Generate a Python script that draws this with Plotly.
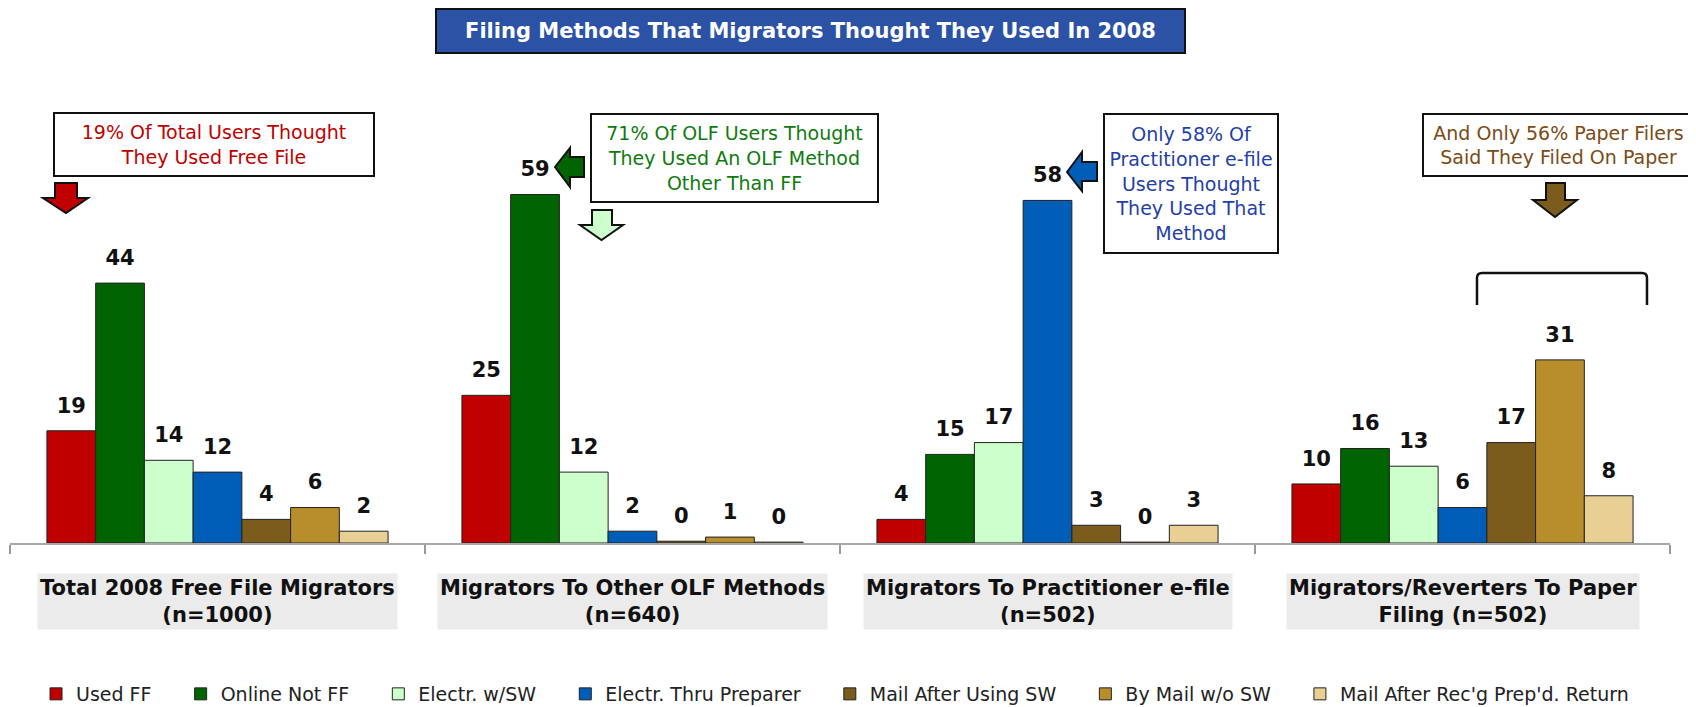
import plotly.graph_objects as go

# ---------------- data ----------------
categories = [
    "Total 2008 Free File Migrators<br>(n=1000)",
    "Migrators To Other OLF Methods<br>(n=640)",
    "Migrators To Practitioner e-file<br>(n=502)",
    "Migrators/Reverters To Paper<br>Filing (n=502)",
]
series_names = [
    "Used FF",
    "Online Not FF",
    "Electr. w/SW",
    "Electr. Thru Preparer",
    "Mail After Using SW",
    "By Mail w/o SW",
    "Mail After Rec'g Prep'd. Return",
]
used_ff = [19, 25, 4, 10]
online_not_ff = [44, 59, 15, 16]
electr_w_sw = [14, 12, 17, 13]
electr_thru_preparer = [12, 2, 58, 6]
mail_after_using_sw = [4, 0.3, 3, 17]
by_mail_wo_sw = [6, 1, 0.15, 31]
mail_after_recg = [2, 0.15, 3, 8]

series_values = [used_ff, online_not_ff, electr_w_sw, electr_thru_preparer,
                 mail_after_using_sw, by_mail_wo_sw, mail_after_recg]
colors = ["#C00000", "#006400", "#CCFFCC", "#005DB8", "#7B5C1C", "#B78E2B", "#E8D095"]

title_text = "Filing Methods That Migrators Thought They Used In 2008"
callouts = [
    ("19% Of Total Users Thought<br>They Used Free File", "#C00000"),
    ("71% Of OLF Users Thought<br>They Used An OLF Method<br>Other Than FF", "#0F7B0F"),
    ("Only 58% Of<br>Practitioner e-file<br>Users Thought<br>They Used That<br>Method", "#1F40A8"),
    ("And Only 56% Paper Filers<br>Said They Filed On Paper", "#7B4B15"),
]

# ---------------- layout geometry (page offset by the 8px body margin) ----------------
OFF = 8
PAGE_W, PAGE_H = 1696, 707
W, H = PAGE_W - OFF, PAGE_H - OFF
PLOT_L, PLOT_R, PLOT_T, PLOT_B = 10, 1670, 100, 543  # in page pixels
ML = PLOT_L - OFF
MT = PLOT_T - OFF
MR = W - (PLOT_R - OFF)
MB = H - (PLOT_B - OFF)
PW = PLOT_R - PLOT_L
PH = PLOT_B - PLOT_T


def px(x):
    return (x - PLOT_L) / PW


def py(y):
    return (PLOT_B - y) / PH


def poly(points):
    return "M " + " L ".join(f"{px(x):.5f},{py(y):.5f}" for x, y in points) + " Z"


fig = go.Figure()

NBSP = "\u00a0"
for i, (name, vals, col) in enumerate(zip(series_names, series_values, colors)):
    legend_label = name + (NBSP * 4 if i < len(series_names) - 1 else "")
    fig.add_trace(go.Bar(
        x=categories, y=vals, name=legend_label,
        marker=dict(color=col, line=dict(color="#222222", width=1)),
        hoverinfo="skip",
    ))

for name, vals in zip(series_names, series_values):
    fig.add_trace(go.Scatter(
        x=categories, y=vals, mode="markers+text", orientation="v",
        text=[f"{round(v):d}" for v in vals],
        textposition="top center",
        textfont=dict(family="DejaVu Sans", size=21, color="#111111", weight="bold"),
        marker=dict(size=19, color="rgba(0,0,0,0)"),
        showlegend=False, cliponaxis=False, hoverinfo="skip",
    ))

annotations = []
# title box
annotations.append(dict(
    text=f"<b>{title_text}</b>", xref="paper", yref="paper",
    x=px(810), y=py(31), xanchor="center", yanchor="middle", showarrow=False,
    font=dict(family="DejaVu Sans", size=21, color="white"),
    bgcolor="#2B52A5", bordercolor="#111111", borderwidth=2, borderpad=0,
    width=747, height=42,
))

box_geo = [  # (center x, center y, width, height) in page pixels
    (214, 144.5, 318, 61),
    (734.5, 158, 285, 86),
    (1191, 183.5, 172, 137),
    (1558.5, 145, 269, 60),
]
for (txt, col), (cx, cy, bw, bh) in zip(callouts, box_geo):
    annotations.append(dict(
        text=txt, xref="paper", yref="paper", x=px(cx), y=py(cy),
        xanchor="center", yanchor="middle", showarrow=False, align="center",
        font=dict(family="DejaVu Sans", size=19, color=col),
        bgcolor="white", bordercolor="#111111", borderwidth=2, borderpad=0,
        width=bw, height=bh,
    ))

# category labels
for cat in categories:
    annotations.append(dict(
        text=f"<b>{cat}</b>", xref="x", yref="paper", x=cat, y=py(601),
        xanchor="center", yanchor="middle", showarrow=False, align="center",
        font=dict(family="DejaVu Sans", size=21, color="#111111"),
        bgcolor="#EBEBEB", borderpad=2,
    ))

shapes = []
arrow_line = dict(color="#111111", width=2)
# red down arrow
shapes.append(dict(type="path", xref="paper", yref="paper", fillcolor="#C00000", line=arrow_line,
                   path=poly([(55, 183), (77, 183), (77, 198), (88, 198), (66, 213), (43, 198), (55, 198)])))
# light-green down arrow
shapes.append(dict(type="path", xref="paper", yref="paper", fillcolor="#CCFFCC", line=arrow_line,
                   path=poly([(592, 210), (612, 210), (612, 225), (623, 225), (601.5, 240), (580, 225), (592, 225)])))
# brown down arrow
shapes.append(dict(type="path", xref="paper", yref="paper", fillcolor="#7B5C1C", line=arrow_line,
                   path=poly([(1546, 183), (1565, 183), (1565, 200), (1577, 200), (1555, 217), (1533, 200), (1546, 200)])))
# green left arrow
shapes.append(dict(type="path", xref="paper", yref="paper", fillcolor="#006400", line=arrow_line,
                   path=poly([(555, 167), (570, 148), (570, 157), (584, 157), (584, 177), (570, 177), (570, 187)])))
# blue left arrow
shapes.append(dict(type="path", xref="paper", yref="paper", fillcolor="#005DB8", line=arrow_line,
                   path=poly([(1067, 172), (1082, 152), (1082, 162), (1097, 162), (1097, 181), (1082, 181), (1082, 191)])))
# bracket
bx0, bx1, by0, by1 = 1477, 1647, 273, 305
shapes.append(dict(
    type="path", xref="paper", yref="paper", line=dict(color="#111111", width=2.5),
    path=(f"M {px(bx0):.5f},{py(by1):.5f} L {px(bx0):.5f},{py(by0 + 5):.5f} "
          f"Q {px(bx0):.5f},{py(by0):.5f} {px(bx0 + 5):.5f},{py(by0):.5f} "
          f"L {px(bx1 - 5):.5f},{py(by0):.5f} "
          f"Q {px(bx1):.5f},{py(by0):.5f} {px(bx1):.5f},{py(by0 + 5):.5f} "
          f"L {px(bx1):.5f},{py(by1):.5f}"),
))

fig.update_layout(
    width=W, height=H,
    margin=dict(l=ML, r=MR, t=MT, b=MB, pad=0, autoexpand=False),
    paper_bgcolor="white", plot_bgcolor="white",
    barmode="group", bargap=0.178, bargroupgap=0,
    scattermode="group", scattergap=0.178,
    xaxis=dict(type="category", range=[-0.5, 3.5], showticklabels=False,
               ticks="outside", tickson="boundaries", ticklen=9, tickcolor="#999999", tickwidth=1.5,
               showline=True, linecolor="#A8A8A8", linewidth=2, showgrid=False, zeroline=False),
    yaxis=dict(range=[0, 75], visible=False, showgrid=False, zeroline=False),
    showlegend=True,
    legend=dict(orientation="h", x=0.497, xanchor="center", y=py(694), yanchor="middle",
                font=dict(family="DejaVu Sans", size=19, color="#222222"),
                traceorder="normal", bgcolor="rgba(0,0,0,0)"),
    annotations=annotations, shapes=shapes,
    font=dict(family="DejaVu Sans"),
)

fig.write_html("out.html")
